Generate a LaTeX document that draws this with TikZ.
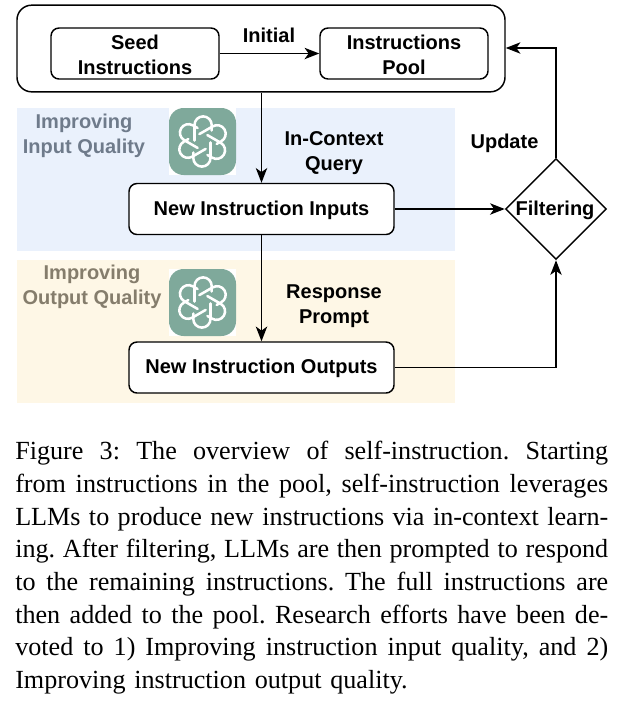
\documentclass[tikz,border=0pt]{standalone}
\usepackage{fontspec}
\setmainfont{Liberation Serif}
\newfontfamily\arialf{Liberation Sans}
\usetikzlibrary{shapes.geometric,arrows.meta}
\definecolor{bluebg}{HTML}{EAF1FC}
\definecolor{yellowbg}{HTML}{FEF7E6}
\definecolor{logogreen}{HTML}{7FA99B}
\definecolor{inlab}{HTML}{6F7B8B}
\definecolor{outlab}{HTML}{857D6C}
\newcommand{\capline}[1]{\hbox to 444.75pt{\spaceskip=0.25em plus 1em minus 0.12em\relax #1}}
\newcommand{\dn}{\rule{0pt}{12.4pt}}
\tikzset{
  box/.style={draw,line width=1.1pt,rounded corners=6pt,fill=white,align=center,font=\arialf\bfseries\fontsize{15}{18.75}\selectfont,inner sep=0pt},
  lab/.style={align=center,font=\arialf\bfseries\fontsize{15}{18.75}\selectfont,inner sep=0pt},
  conn/.style={line width=1.1pt,-{Stealth[length=11pt,width=8.5pt,inset=3pt]}},
  band/.style={draw=none,inner sep=0pt,anchor=north west},
  knot/.style={draw=white,line width=1.9pt,line join=round,line cap=round},
  pics/gptlogo/.style={code={
    \fill[white] (-33.5,-33.5) rectangle (33.5,33.5);
    \fill[logogreen,rounded corners=11pt] (-33.5,-33.5) rectangle (33.5,33.5);
    \foreach \a in {0,60,...,300}{
      \draw[knot,rotate=\a] (-8,-1) -- (-8,-16.5) arc[start angle=180,end angle=360,radius=8.6] -- (9.2,-11);
    }
  }}
}
\begin{document}
\begin{tikzpicture}[x=0.75pt,y=-0.75pt]
\useasboundingbox (0,0) rectangle (620,704);
\fill[white] (0,0) rectangle (620,704);
\node[band,fill=bluebg,minimum width=328.5pt,minimum height=107.25pt] (inband) at (17,108) {};
\node[band,fill=yellowbg,minimum width=328.5pt,minimum height=107.25pt] (outband) at (17,260) {};
\node[draw,line width=1.1pt,rounded corners=11pt,minimum width=366pt,minimum height=65pt,inner sep=0pt] (outer) at (261,48.5) {};
\node[box,minimum width=126pt,minimum height=38.25pt] (seed) at (135,53.5) {\dn Seed\\Instructions};
\node[box,minimum width=126pt,minimum height=38.25pt] (pool) at (404,53.5) {\dn Instructions\\Pool};
\node[box,minimum width=198.75pt,minimum height=38.25pt] (inputs) at (261.5,209) {\dn New Instruction Inputs};
\node[box,minimum width=198.75pt,minimum height=38.25pt] (outputs) at (261.5,367.5) {\dn New Instruction Outputs};
\node[diamond,draw,line width=1.1pt,minimum width=75.75pt,minimum height=75.75pt,inner sep=0pt,fill=white] (filter) at (556,209) {};
\node[lab] (filtertext) at (555,210) {Filtering};
\node[lab] (initial) at (269,35.5) {Initial};
\node[lab] (incontext) at (334,153.5) {In-Context\\Query};
\node[lab] (response) at (334,306.5) {Response\\Prompt};
\node[lab] (update) at (504.5,143) {Update};
\node[lab,text=inlab] (inlabel) at (84,136) {Improving\\Input Quality};
\node[lab,text=outlab] (outlabel) at (92,287) {Improving\\Output Quality};
\pic at (202.5,141.5) {gptlogo};
\pic at (202.5,302.5) {gptlogo};
\draw[conn] (seed.east) -- (pool.west);
\draw[conn] (outer.south -| inputs.north) -- (inputs.north);
\draw[conn] (inputs.south) -- (outputs.north);
\draw[conn] (inputs.east) -- (filter.west);
\draw[conn] (outputs.east) -| (filter.south);
\coordinate (poolin) at (outer.east |- 0,48);
\draw[conn] (filter.north) |- (poolin);
\node[anchor=north west,inner sep=0pt,text width=444.75pt,font=\fontsize{19.6}{24.5}\selectfont] (caption) at (15,441) {\frenchspacing
\capline{Figure 3: The overview of self-instruction. Starting}
\capline{from instructions in the pool, self-instruction leverages}
\capline{LLMs to produce new instructions via in-context learn-}
\capline{ing. After filtering, LLMs are then prompted to respond}
\capline{to the remaining instructions. The full instructions are}
\capline{then added to the pool. Research efforts have been de-}
\capline{voted to 1) Improving instruction input quality, and 2)}
\hbox{Improving instruction output quality.}};
\end{tikzpicture}
\end{document}
